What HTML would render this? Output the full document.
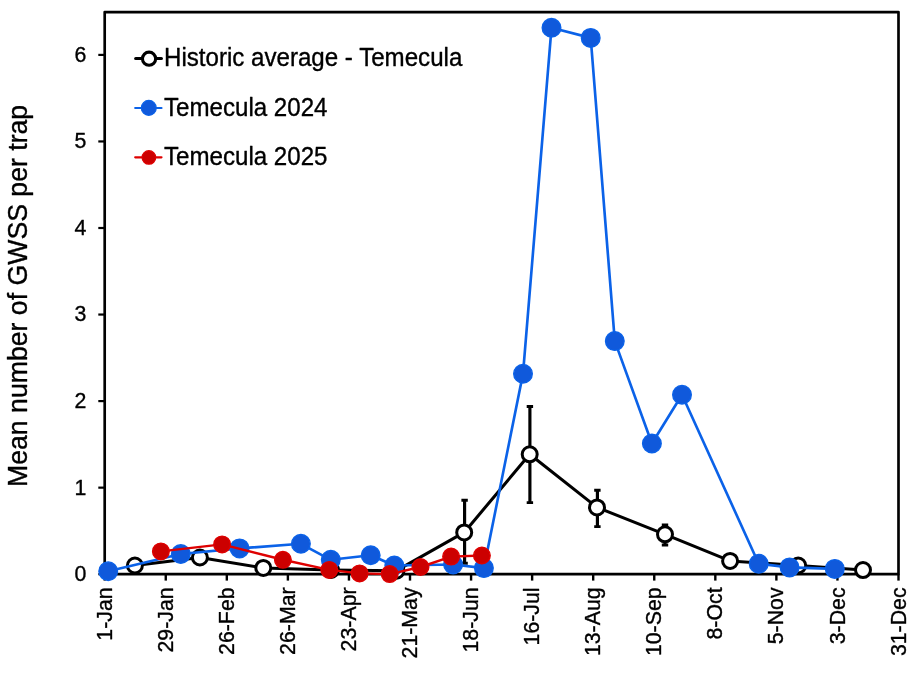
<!DOCTYPE html>
<html><head><meta charset="utf-8"><title>GWSS trap counts - Temecula</title>
<style>html,body{margin:0;padding:0;background:#fff;}svg{display:block;will-change:transform;}text{font-family:"Liberation Sans",sans-serif;fill:#000;stroke:#000;stroke-width:0.35px;stroke-linejoin:round;}</style></head><body>
<svg width="918" height="682" viewBox="0 0 918 682">
<rect x="0" y="0" width="918" height="682" fill="#fff"/>
<g stroke="#000" stroke-width="2.67" fill="none" stroke-linecap="butt">
<rect x="104.7" y="12.1" width="793.80" height="562.10" stroke-linejoin="round"/>
<line x1="98.3" y1="574.20" x2="104.7" y2="574.20" stroke-width="2.2"/>
<line x1="98.3" y1="487.65" x2="104.7" y2="487.65" stroke-width="2.2"/>
<line x1="98.3" y1="401.10" x2="104.7" y2="401.10" stroke-width="2.2"/>
<line x1="98.3" y1="314.55" x2="104.7" y2="314.55" stroke-width="2.2"/>
<line x1="98.3" y1="228.00" x2="104.7" y2="228.00" stroke-width="2.2"/>
<line x1="98.3" y1="141.45" x2="104.7" y2="141.45" stroke-width="2.2"/>
<line x1="98.3" y1="54.90" x2="104.7" y2="54.90" stroke-width="2.2"/>
<line x1="104.70" y1="574.2" x2="104.70" y2="580.6" stroke-width="2.4"/>
<line x1="165.76" y1="574.2" x2="165.76" y2="580.6" stroke-width="2.4"/>
<line x1="226.82" y1="574.2" x2="226.82" y2="580.6" stroke-width="2.4"/>
<line x1="287.88" y1="574.2" x2="287.88" y2="580.6" stroke-width="2.4"/>
<line x1="348.95" y1="574.2" x2="348.95" y2="580.6" stroke-width="2.4"/>
<line x1="410.01" y1="574.2" x2="410.01" y2="580.6" stroke-width="2.4"/>
<line x1="471.07" y1="574.2" x2="471.07" y2="580.6" stroke-width="2.4"/>
<line x1="532.13" y1="574.2" x2="532.13" y2="580.6" stroke-width="2.4"/>
<line x1="593.19" y1="574.2" x2="593.19" y2="580.6" stroke-width="2.4"/>
<line x1="654.25" y1="574.2" x2="654.25" y2="580.6" stroke-width="2.4"/>
<line x1="715.32" y1="574.2" x2="715.32" y2="580.6" stroke-width="2.4"/>
<line x1="776.38" y1="574.2" x2="776.38" y2="580.6" stroke-width="2.4"/>
<line x1="837.44" y1="574.2" x2="837.44" y2="580.6" stroke-width="2.4"/>
<line x1="898.50" y1="574.2" x2="898.50" y2="580.6" stroke-width="2.4"/>
</g>
<g font-size="21.33" text-anchor="end">
<text transform="translate(86.3,581.05) scale(1,1.035)">0</text>
<text transform="translate(86.3,494.50) scale(1,1.035)">1</text>
<text transform="translate(86.3,407.95) scale(1,1.035)">2</text>
<text transform="translate(86.3,321.40) scale(1,1.035)">3</text>
<text transform="translate(86.3,234.85) scale(1,1.035)">4</text>
<text transform="translate(86.3,148.30) scale(1,1.035)">5</text>
<text transform="translate(86.3,61.75) scale(1,1.035)">6</text>
</g>
<g font-size="21.33" text-anchor="end">
<text transform="translate(111.80,587.4) rotate(-90) scale(1,1.035)">1-Jan</text>
<text transform="translate(172.86,587.4) rotate(-90) scale(1,1.035)">29-Jan</text>
<text transform="translate(233.92,587.4) rotate(-90) scale(1,1.035)">26-Feb</text>
<text transform="translate(294.98,587.4) rotate(-90) scale(1,1.035)">26-Mar</text>
<text transform="translate(356.05,587.4) rotate(-90) scale(1,1.035)">23-Apr</text>
<text transform="translate(417.11,587.4) rotate(-90) scale(1,1.035)">21-May</text>
<text transform="translate(478.17,587.4) rotate(-90) scale(1,1.035)">18-Jun</text>
<text transform="translate(539.23,587.4) rotate(-90) scale(1,1.035)">16-Jul</text>
<text transform="translate(600.29,587.4) rotate(-90) scale(1,1.035)">13-Aug</text>
<text transform="translate(661.35,587.4) rotate(-90) scale(1,1.035)">10-Sep</text>
<text transform="translate(722.42,587.4) rotate(-90) scale(1,1.035)">8-Oct</text>
<text transform="translate(783.48,587.4) rotate(-90) scale(1,1.035)">5-Nov</text>
<text transform="translate(844.54,587.4) rotate(-90) scale(1,1.035)">3-Dec</text>
<text transform="translate(905.60,587.4) rotate(-90) scale(1,1.035)">31-Dec</text>
</g>
<text font-size="26.67" text-anchor="middle" transform="translate(27.25,295.9) rotate(-90) scale(1,1.035)">Mean number of GWSS per trap</text>
<g stroke="#000" fill="none">
<path d="M464.6,500.2V563.3" stroke-width="3.15"/>
<path d="M461.4,500.2h6.4M461.4,563.3h6.4" stroke-width="2.9"/>
<path d="M529.9,406.5V502.6" stroke-width="3.15"/>
<path d="M526.7,406.5h6.4M526.7,502.6h6.4" stroke-width="2.9"/>
<path d="M597.4,490.3V526.6" stroke-width="3.15"/>
<path d="M594.2,490.3h6.4M594.2,526.6h6.4" stroke-width="2.9"/>
<path d="M665.0,525.0V545.0" stroke-width="3.15"/>
<path d="M661.8,525.0h6.4M661.8,545.0h6.4" stroke-width="2.9"/>
<polyline points="134.9,565.5 199.9,557.5 263.3,567.9 331.0,570.0 396.5,570.7 464.2,532.4 529.7,454.3 597.0,507.4 665.0,534.3 730.1,560.9 798.2,565.5 863.0,570.1" stroke-width="3.05" stroke-linejoin="round"/>
<circle cx="134.9" cy="565.5" r="7.5" fill="#fff" stroke-width="3"/>
<circle cx="199.9" cy="557.5" r="7.5" fill="#fff" stroke-width="3"/>
<circle cx="263.3" cy="567.9" r="7.5" fill="#fff" stroke-width="3"/>
<circle cx="331.0" cy="570.0" r="7.5" fill="#fff" stroke-width="3"/>
<circle cx="396.5" cy="570.7" r="7.5" fill="#fff" stroke-width="3"/>
<circle cx="464.2" cy="532.4" r="7.5" fill="#fff" stroke-width="3"/>
<circle cx="529.7" cy="454.3" r="7.5" fill="#fff" stroke-width="3"/>
<circle cx="597.0" cy="507.4" r="7.5" fill="#fff" stroke-width="3"/>
<circle cx="665.0" cy="534.3" r="7.5" fill="#fff" stroke-width="3"/>
<circle cx="730.1" cy="560.9" r="7.5" fill="#fff" stroke-width="3"/>
<circle cx="798.2" cy="565.5" r="7.5" fill="#fff" stroke-width="3"/>
<circle cx="863.0" cy="570.1" r="7.5" fill="#fff" stroke-width="3"/>
</g>
<g stroke="#0B62E8" fill="#1059DB">
<polyline points="108.2,571.2 180.8,554.0 239.6,548.4 300.9,543.8 330.8,559.8 370.7,555.3 394.3,565.5 453.1,564.5 483.9,568.1 523.0,373.8 551.5,27.8 590.7,37.9 614.8,341.1 651.9,443.5 682.0,394.7 758.7,563.7 789.6,567.4 834.8,568.9" stroke-width="2.65" fill="none" stroke-linejoin="round"/>
<circle cx="108.2" cy="571.2" r="9.3" stroke-width="1.4"/>
<circle cx="180.8" cy="554.0" r="9.3" stroke-width="1.4"/>
<circle cx="239.6" cy="548.4" r="9.3" stroke-width="1.4"/>
<circle cx="300.9" cy="543.8" r="9.3" stroke-width="1.4"/>
<circle cx="330.8" cy="559.8" r="9.3" stroke-width="1.4"/>
<circle cx="370.7" cy="555.3" r="9.3" stroke-width="1.4"/>
<circle cx="394.3" cy="565.5" r="9.3" stroke-width="1.4"/>
<circle cx="453.1" cy="564.5" r="9.3" stroke-width="1.4"/>
<circle cx="483.9" cy="568.1" r="9.3" stroke-width="1.4"/>
<circle cx="523.0" cy="373.8" r="9.3" stroke-width="1.4"/>
<circle cx="551.5" cy="27.8" r="9.3" stroke-width="1.4"/>
<circle cx="590.7" cy="37.9" r="9.3" stroke-width="1.4"/>
<circle cx="614.8" cy="341.1" r="9.3" stroke-width="1.4"/>
<circle cx="651.9" cy="443.5" r="9.3" stroke-width="1.4"/>
<circle cx="682.0" cy="394.7" r="9.3" stroke-width="1.4"/>
<circle cx="758.7" cy="563.7" r="9.3" stroke-width="1.4"/>
<circle cx="789.6" cy="567.4" r="9.3" stroke-width="1.4"/>
<circle cx="834.8" cy="568.9" r="9.3" stroke-width="1.4"/>
</g>
<g stroke="#DE0000" fill="#CC0000">
<polyline points="160.9,551.4 222.1,544.4 282.9,559.8 329.3,569.9 359.6,573.4 389.7,574.1 420.5,567.0 451.1,556.6 481.9,555.5" stroke-width="2.45" fill="none" stroke-linejoin="round"/>
<circle cx="160.9" cy="551.4" r="8.3" stroke-width="1.4"/>
<circle cx="222.1" cy="544.4" r="8.3" stroke-width="1.4"/>
<circle cx="282.9" cy="559.8" r="8.3" stroke-width="1.4"/>
<circle cx="329.3" cy="569.9" r="8.3" stroke-width="1.4"/>
<circle cx="359.6" cy="573.4" r="8.3" stroke-width="1.4"/>
<circle cx="389.7" cy="574.1" r="8.3" stroke-width="1.4"/>
<circle cx="420.5" cy="567.0" r="8.3" stroke-width="1.4"/>
<circle cx="451.1" cy="556.6" r="8.3" stroke-width="1.4"/>
<circle cx="481.9" cy="555.5" r="8.3" stroke-width="1.4"/>
</g>
<g>
<line x1="135.7" y1="58.5" x2="161.4" y2="58.5" stroke="#000" stroke-width="3.2" stroke-linecap="round"/>
<circle cx="149.05" cy="58.7" r="6.6" fill="#fff" stroke="#000" stroke-width="3.1"/>
<line x1="135.2" y1="108.0" x2="161.5" y2="108.0" stroke="#0B62E8" stroke-width="2.2" stroke-linecap="round"/>
<circle cx="148.8" cy="107.9" r="7.45" fill="#1059DB" stroke="#0B62E8" stroke-width="1.2"/>
<line x1="135.2" y1="157.35" x2="161.5" y2="157.35" stroke="#DE0000" stroke-width="2.2" stroke-linecap="round"/>
<circle cx="148.9" cy="157.45" r="6.8" fill="#CC0000" stroke="#DE0000" stroke-width="1.2"/>
<g font-size="24.12">
<text transform="translate(164.0,66.3) scale(1,1.035)">Historic average - Temecula</text>
<text transform="translate(164.0,115.8) scale(1,1.035)">Temecula 2024</text>
<text transform="translate(164.0,165.0) scale(1,1.035)">Temecula 2025</text>
</g></g>
</svg></body></html>
